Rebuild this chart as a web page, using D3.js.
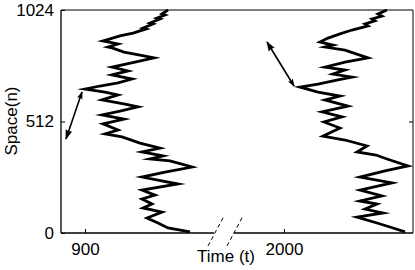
<!DOCTYPE html>
<html><head><meta charset="utf-8">
<script src="https://cdn.jsdelivr.net/npm/d3@7"></script>
<style>body{margin:0;background:#fff}svg{display:block}text{font-family:"Liberation Sans",Arial,Helvetica,sans-serif}</style>
</head><body><svg id="c" width="415" height="270"></svg>
<script>
// data (time t, space n)
const leftT = [1066,1054,1060,1044,1050,1030,1036,1016,1022,996,970,950,936,966,946,954,978,1010,1038,1000,954,986,954,994,966,930,900,940,966,934,980,1006,970,934,978,936,966,940,974,1010,1050,1014,1056,1030,1070,1114,1060,1014,1086,1014,1040,1014,1034,1016,1054,1024,1046,1066,1110];
const leftN = [1024,1006,1001,987,983,964,960,941,937,918,905,891,882,868,854,850,831,817,804,785,762,744,726,707,689,675,661,647,634,611,592,579,560,542,523,501,473,455,441,413,390,372,354,340,331,303,280,257,225,197,174,156,133,115,96,69,46,23,5];
const rightT = [2206,2188,2196,2176,2182,2162,2168,2136,2112,2088,2072,2098,2082,2122,2168,2122,2082,2122,2098,2136,2108,2068,2032,2068,2112,2082,2128,2076,2116,2080,2112,2078,2122,2166,2146,2184,2206,2248,2202,2152,2216,2152,2196,2152,2186,2162,2198,2146,2186,2218,2242];
const rightN = [1024,1006,996,983,974,960,951,932,914,895,877,863,854,840,804,785,762,748,730,716,703,684,670,647,629,611,583,556,533,510,482,445,427,400,372,358,340,308,285,257,230,197,170,147,133,110,92,73,46,23,5];
const arrowLeft = {t:[862,894], n:[432,647]};
const arrowRight = {t:[1966,2020], n:[877,675]};
const xTicksLeft = [900];
const xTicksRight = [2000];
const yTicks = [0,512,1024];

const svg = d3.select("#c");
const L = 61, R = 413, T = 10, B = 233;
const xL = d3.scaleLinear().domain([852,1162]).range([61,216]);
const xR = d3.scaleLinear().domain([1900,2258]).range([234,413]);
const y = d3.scaleLinear().domain([0,1024]).range([B,T]);

const defs = svg.append("defs");
defs.append("marker").attr("id","head").attr("viewBox","-10 -5 12 10").attr("refX",0).attr("refY",0)
  .attr("markerWidth",12).attr("markerHeight",10).attr("markerUnits","userSpaceOnUse").attr("orient","auto")
  .append("path").attr("d","M1,0 L-7,-2.8 L-5.5,0 L-7,2.8 Z").attr("fill","#000");
defs.append("marker").attr("id","tail").attr("viewBox","-12 -6 14 12").attr("refX",0).attr("refY",0)
  .attr("markerWidth",14).attr("markerHeight",12).attr("markerUnits","userSpaceOnUse").attr("orient","auto-start-reverse")
  .append("path").attr("d","M1,0 L-9,-3.5 L-8,0 L-9,3.5 Z").attr("fill","#000");

// frame
svg.append("line").attr("x1",L).attr("x2",R).attr("y1",T).attr("y2",T).attr("stroke","#555").attr("stroke-width",1.6);
svg.append("line").attr("x1",R).attr("x2",R).attr("y1",T).attr("y2",B).attr("stroke","#000").attr("stroke-width",1);
svg.append("line").attr("x1",L).attr("x2",L).attr("y1",T).attr("y2",B).attr("stroke","#000").attr("stroke-width",1.3);
svg.append("line").attr("x1",L).attr("x2",214).attr("y1",B).attr("y2",B).attr("stroke","#000").attr("stroke-width",1.3);
svg.append("line").attr("x1",234).attr("x2",R).attr("y1",B).attr("y2",B).attr("stroke","#000").attr("stroke-width",1.3);

// break marks
[[208,246,224,216],[227,246,243,216]].forEach(d=>{
  svg.append("line").attr("x1",d[0]).attr("y1",d[1]).attr("x2",d[2]).attr("y2",d[3])
    .attr("stroke","#000").attr("stroke-width",1).attr("stroke-dasharray","4,3");
});

function styleAxis(g){
  g.select(".domain").remove();
  g.selectAll(".tick line").attr("stroke","#000").attr("stroke-width",1);
  g.selectAll("text").attr("font-size",17).attr("fill","#000").attr("font-family",null);
}
svg.append("g").attr("transform",`translate(0,${B})`).call(d3.axisBottom(xL).tickValues(xTicksLeft).tickFormat(d3.format("d")).tickSize(-4).tickPadding(10)).call(styleAxis);
svg.append("g").attr("transform",`translate(0,${B})`).call(d3.axisBottom(xR).tickValues(xTicksRight).tickFormat(d3.format("d")).tickSize(-4).tickPadding(10)).call(styleAxis);
svg.append("g").attr("transform",`translate(${L},0)`).call(d3.axisLeft(y).tickValues(yTicks).tickFormat(d3.format("d")).tickSize(-4).tickPadding(7)).call(styleAxis);
svg.append("g").attr("transform",`translate(${R},0)`).call(d3.axisRight(y).tickValues([512]).tickSize(-4).tickFormat("")).call(styleAxis);

// trajectories
const line = (xs)=>d3.line().x(d=>xs(d[0])).y(d=>y(d[1]));
svg.append("path").datum(leftT.map((t,i)=>[t,leftN[i]])).attr("d",line(xL))
  .attr("fill","none").attr("stroke","#000").attr("stroke-width",2.8).attr("stroke-linejoin","miter").attr("stroke-miterlimit",12);
svg.append("path").datum(rightT.map((t,i)=>[t,rightN[i]])).attr("d",line(xR))
  .attr("fill","none").attr("stroke","#000").attr("stroke-width",2.8).attr("stroke-linejoin","miter").attr("stroke-miterlimit",12);

// arrows
[[arrowLeft,xL],[arrowRight,xR]].forEach(([a,xs])=>{
  svg.append("line").attr("x1",xs(a.t[0])).attr("y1",y(a.n[0])).attr("x2",xs(a.t[1])).attr("y2",y(a.n[1]))
    .attr("stroke","#000").attr("stroke-width",1.6).attr("marker-end","url(#head)").attr("marker-start","url(#tail)");
});

// labels
svg.append("text").attr("x",226).attr("y",262).attr("text-anchor","middle").attr("font-size",17).text("Time (t)");
svg.append("text").attr("transform","translate(17,121) rotate(-90)").attr("text-anchor","middle").attr("font-size",17).text("Space(n)");
</script></body></html>
